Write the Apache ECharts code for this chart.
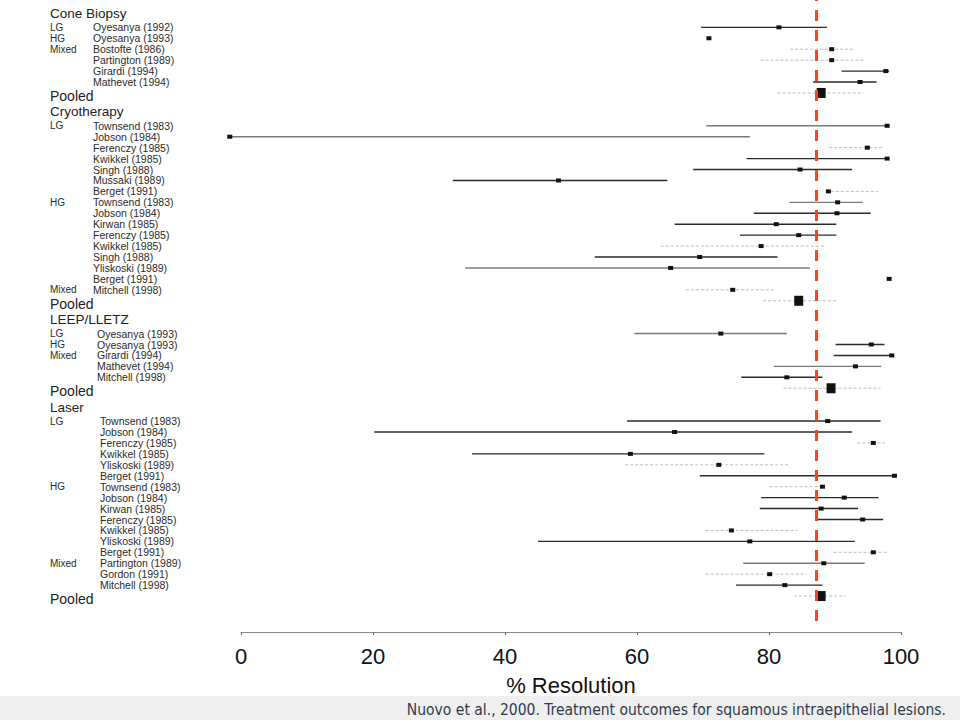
<!DOCTYPE html>
<html>
<head>
<meta charset="utf-8">
<script src="https://cdn.jsdelivr.net/npm/echarts@6/dist/echarts.min.js"></script>
<style>html,body{margin:0;padding:0;background:#fff;}#c{width:960px;height:720px;}</style>
</head>
<body>
<div id="c"></div>
<script>
// ---------- DATA ----------
var coneStudies = ['Oyesanya (1992)','Oyesanya (1993)','Bostofte (1986)','Partington (1989)','Girardi (1994)','Mathevet (1994)'];
var coneGroups  = ['LG','HG','Mixed','','',''];
var conePoint   = [81.5, 70.9, 89.5, 89.5, 97.7, 93.8];
var coneLow     = [69.7, 70.9, 83.2, 78.7, 91.0, 86.7];
var coneHigh    = [88.8, 70.9, 93.0, 94.4, 98.2, 96.3];
var conePooled  = [81.3, 87.9, 94.3]; // low, point, high

var cryoStudies = ['Townsend (1983)','Jobson (1984)','Ferenczy (1985)','Kwikkel (1985)','Singh (1988)','Mussaki (1989)','Berget (1991)',
                   'Townsend (1983)','Jobson (1984)','Kirwan (1985)','Ferenczy (1985)','Kwikkel (1985)','Singh (1988)','Yliskoski (1989)','Berget (1991)',
                   'Mitchell (1998)'];
var cryoGroups  = ['LG','','','','','','','HG','','','','','','','','Mixed'];
var cryoPoint   = [97.9, -1.7, 94.9, 97.9, 84.7, 48.1, 89.0, 90.4, 90.3, 81.1, 84.5, 78.8, 69.5, 65.1, 98.2, 74.5];
var cryoLow     = [70.5, -1.7, 89.1, 76.6, 68.5, 32.1, 88.6, 83.1, 77.7, 65.7, 75.6, 63.6, 53.6, 34.0, 98.2, 67.4];
var cryoHigh    = [98.0, 77.1, 97.1, 98.0, 92.6, 64.6, 96.5, 94.2, 95.4, 90.2, 90.2, 88.5, 81.3, 86.2, 98.2, 80.8];
var cryoPooled  = [79.1, 84.5, 90.2];

var leepStudies = ['Oyesanya (1993)','Oyesanya (1993)','Girardi (1994)','Mathevet (1994)','Mitchell (1998)'];
var leepGroups  = ['LG','HG','Mixed','',''];
var leepPoint   = [72.7, 95.5, 98.6, 93.1, 82.7];
var leepLow     = [59.6, 90.1, 89.8, 80.7, 75.8];
var leepHigh    = [82.7, 97.5, 98.8, 97.0, 88.1];
var leepPooled  = [82.2, 89.4, 96.9];

var laserStudies = ['Townsend (1983)','Jobson (1984)','Ferenczy (1985)','Kwikkel (1985)','Yliskoski (1989)','Berget (1991)',
                    'Townsend (1983)','Jobson (1984)','Kirwan (1985)','Ferenczy (1985)','Kwikkel (1985)','Yliskoski (1989)','Berget (1991)',
                    'Partington (1989)','Gordon (1991)','Mitchell (1998)'];
var laserGroups  = ['LG','','','','','','HG','','','','','','','Mixed','',''];
var laserPoint   = [88.9, 65.7, 95.8, 59.0, 72.4, 99.0, 88.1, 91.4, 87.9, 94.2, 74.3, 77.1, 95.8, 88.3, 80.1, 82.4];
var laserLow     = [58.5, 20.2, 93.4, 35.0, 58.2, 69.5, 80.1, 78.8, 78.6, 87.3, 70.4, 45.0, 89.8, 76.1, 70.4, 75.0];
var laserHigh    = [96.9, 92.6, 97.5, 79.3, 82.9, 99.4, 88.5, 96.6, 93.5, 97.3, 84.3, 93.0, 97.9, 94.5, 85.7, 88.1];
var laserPooled  = [83.8, 87.9, 91.6];

var overallPooled = 87.1;
var xTicks = [0, 20, 40, 60, 80, 100];
var sectionTitles = ['Cone Biopsy', 'Cryotherapy', 'LEEP/LLETZ', 'Laser'];

// ---------- STYLE (line tone per study: 0 dark, 1 mid, 2 light) ----------
var coneTone  = [0,0,2,2,0,0];
var cryoTone  = [1,1,2,0,0,0,2,1,0,0,0,2,0,1,0,2];
var leepTone  = [1,0,0,1,0];
var laserTone = [0,0,2,0,2,0,2,0,0,0,2,0,2,1,2,0];
var TONES = ['#2a2a2a', '#7a7a7a', '#bdbdbd'];

// ---------- BUILD ROWS ----------
var sections = [
  {studies: coneStudies, groups: coneGroups, pt: conePoint, lo: coneLow, hi: coneHigh, pooled: conePooled, tone: coneTone, g: 'g1'},
  {studies: cryoStudies, groups: cryoGroups, pt: cryoPoint, lo: cryoLow, hi: cryoHigh, pooled: cryoPooled, tone: cryoTone, g: 'g1'},
  {studies: leepStudies, groups: leepGroups, pt: leepPoint, lo: leepLow, hi: leepHigh, pooled: leepPooled, tone: leepTone, g: 'g2'},
  {studies: laserStudies, groups: laserGroups, pt: laserPoint, lo: laserLow, hi: laserHigh, pooled: laserPooled, tone: laserTone, g: 'g3'}
];
var rows = [];
var marks = [];
sections.forEach(function (s, si) {
  if (si > 0) rows.push({kind: 'blank'});
  rows.push({kind: 'header', text: sectionTitles[si]});
  s.studies.forEach(function (name, i) {
    marks.push([rows.length, s.lo[i], s.pt[i], s.hi[i], s.tone[i], 0]);
    rows.push({kind: 'study', text: name, group: s.groups[i], g: s.g});
  });
  marks.push([rows.length, s.pooled[0], s.pooled[1], s.pooled[2], 2, 1]);
  rows.push({kind: 'pooled', text: 'Pooled'});
});
var cats = rows.map(function (r, i) { return 'r' + i; });

var chart = echarts.init(document.getElementById('c'), null, {renderer: 'svg'});
var FONT = 'Liberation Sans, Arial, sans-serif';
var STEP = 10.937;

chart.setOption({
  backgroundColor: '#ffffff',
  animation: false,
  title: {
    text: 'Nuovo et al., 2000. Treatment outcomes for squamous intraepithelial lesions.',
    right: 9, top: 696,
    textStyle: {fontFamily: 'Liberation Sans Narrow, DejaVu Sans Condensed, sans-serif', fontSize: 15.5, lineHeight: 18, fontWeight: 'normal', color: '#2f3a4c'}
  },
  graphic: [{type: 'rect', z: -10, shape: {x: 0, y: 696, width: 960, height: 24}, style: {fill: '#efefef'}}],
  grid: [
    {left: 208, width: 693, top: 16.4 - STEP / 2, height: STEP * rows.length},
    {left: 241, width: 660, top: 600, height: 32},
    {left: 208, width: 693, top: 0, height: 621}
  ],
  xAxis: [
    {gridIndex: 0, type: 'value', min: -5, max: 100, show: false},
    {gridIndex: 1, type: 'value', min: 0, max: 100, interval: 20,
     axisLine: {show: true, lineStyle: {color: '#8a8a8a', width: 1}},
     axisTick: {show: true, length: 3, lineStyle: {color: '#666'}},
     splitLine: {show: false},
     axisLabel: {fontFamily: FONT, fontSize: 22, color: '#111', margin: 13,
       formatter: function (v) { return xTicks.indexOf(v) >= 0 ? String(v) : ''; }},
     name: '% Resolution', nameLocation: 'middle', nameGap: 41,
     nameTextStyle: {fontFamily: FONT, fontSize: 22, lineHeight: 24, color: '#111'}},
    {gridIndex: 2, type: 'value', min: -5, max: 100, show: false}
  ],
  yAxis: [
    {gridIndex: 0, type: 'category', data: cats, inverse: true,
     axisLine: {show: false}, axisTick: {show: false}, splitLine: {show: false},
     axisLabel: {
       interval: 0, align: 'left', margin: 158, color: '#2b2b2b', fontFamily: FONT,
       formatter: function (v, idx) {
         var r = rows[idx];
         if (!r || r.kind === 'blank') return '';
         if (r.kind === 'header') return '{h|' + r.text + '}';
         if (r.kind === 'pooled') return '{p|' + r.text + '}';
         return '{' + r.g + '|' + (r.group || ' ') + '}{s|' + r.text + '}';
       },
       rich: {
         h: {fontFamily: FONT, fontSize: 13.5, lineHeight: 12, color: '#222', padding: [0, 0, 6, 0]},
         p: {fontFamily: FONT, fontSize: 14, lineHeight: 11, color: '#222', padding: [6, 0, 0, 0]},
         g1: {fontFamily: FONT, fontSize: 10, lineHeight: 9.5, color: '#2b2b2b', width: 43},
         g2: {fontFamily: FONT, fontSize: 10, lineHeight: 9.5, color: '#2b2b2b', width: 47},
         g3: {fontFamily: FONT, fontSize: 10, lineHeight: 9.5, color: '#2b2b2b', width: 50},
         s: {fontFamily: FONT, fontSize: 10.5, lineHeight: 9.5, color: '#2b2b2b'}
       }
     }},
    {gridIndex: 1, type: 'value', show: false},
    {gridIndex: 2, type: 'value', min: 0, max: 1, show: false}
  ],
  series: [
    {
      type: 'custom', xAxisIndex: 0, yAxisIndex: 0,
      encode: {y: 0, x: [1, 2, 3]},
      data: marks,
      renderItem: function (params, api) {
        var cat = api.value(0);
        var lo = api.coord([api.value(1), cat]);
        var pt = api.coord([api.value(2), cat]);
        var hi = api.coord([api.value(3), cat]);
        var tone = api.value(4);
        var pooled = api.value(5);
        var children = [];
        if (hi[0] - lo[0] > 0.5) {
          children.push({type: 'line',
            shape: {x1: lo[0], y1: lo[1], x2: hi[0], y2: hi[1]},
            style: {stroke: TONES[tone], lineWidth: tone === 2 ? 1 : 1.4, lineDash: tone === 2 ? [3, 2] : null}});
        }
        var w = pooled ? 9 : 5, h = pooled ? 10 : 4;
        children.push({type: 'rect', shape: {x: pt[0] - w / 2, y: pt[1] - h / 2, width: w, height: h}, style: {fill: '#111'}});
        return {type: 'group', children: children};
      }
    },
    {
      type: 'line', xAxisIndex: 2, yAxisIndex: 2, data: [[overallPooled, 0.5]], symbol: 'none', silent: true,
      lineStyle: {opacity: 0},
      markLine: {
        silent: true, symbol: ['none', 'none'], label: {show: false},
        lineStyle: {color: '#ef4a1e', width: 3, type: [11, 9]},
        data: [{xAxis: overallPooled}]
      }
    }
  ]
});
</script>
</body>
</html>
